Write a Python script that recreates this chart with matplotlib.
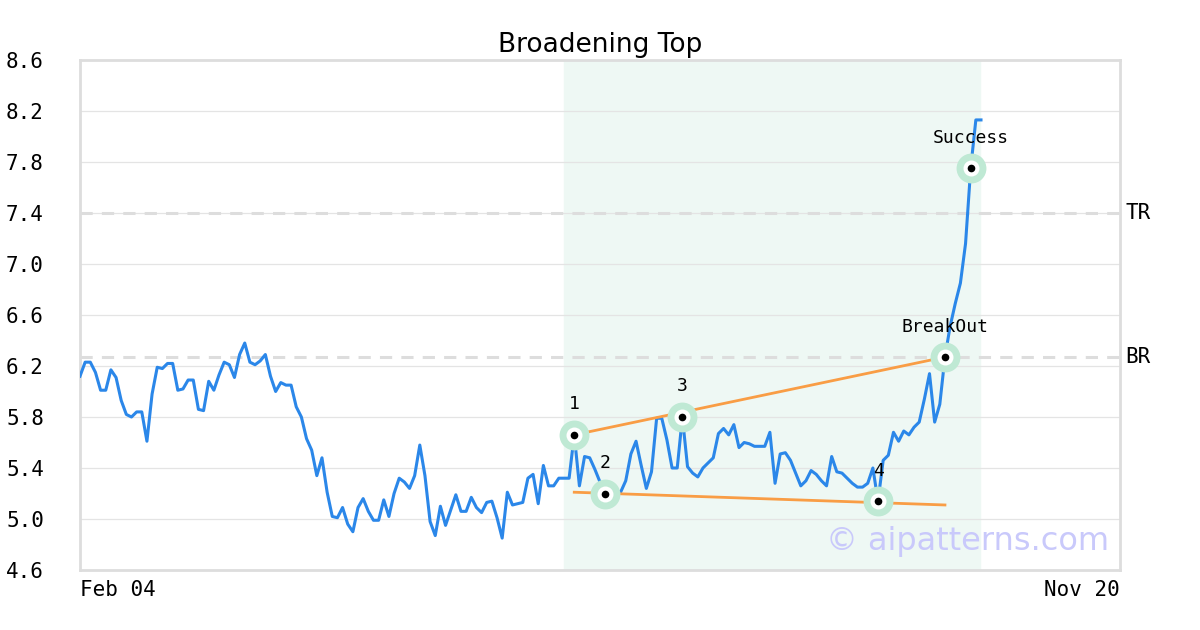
import matplotlib
matplotlib.use("Agg")
import matplotlib.pyplot as plt
import matplotlib.transforms as mtransforms

# price series, one value per trading day (index 0 = Feb 04)
prices = [
    6.12, 6.23, 6.23, 6.15, 6.01, 6.01, 6.17, 6.11, 5.93, 5.82,
    5.80, 5.84, 5.84, 5.61, 5.98, 6.19, 6.18, 6.22, 6.22, 6.01,
    6.02, 6.09, 6.09, 5.86, 5.85, 6.08, 6.01, 6.13, 6.23, 6.21,
    6.11, 6.29, 6.38, 6.23, 6.21, 6.24, 6.29, 6.12, 6.00, 6.07,
    6.05, 6.05, 5.88, 5.80, 5.63, 5.54, 5.34, 5.48, 5.21, 5.02,
    5.01, 5.09, 4.96, 4.90, 5.09, 5.16, 5.06, 4.99, 4.99, 5.15,
    5.02, 5.20, 5.32, 5.29, 5.24, 5.34, 5.58, 5.34, 4.98, 4.87,
    5.10, 4.95, 5.07, 5.19, 5.06, 5.06, 5.17, 5.09, 5.05, 5.13,
    5.14, 5.01, 4.85, 5.21, 5.11, 5.12, 5.13, 5.32, 5.35, 5.12,
    5.42, 5.26, 5.26, 5.32, 5.32, 5.32, 5.66, 5.26, 5.49, 5.48,
    5.39, 5.29, 5.20, 5.21, 5.22, 5.21, 5.30, 5.51, 5.61, 5.42,
    5.24, 5.37, 5.79, 5.79, 5.62, 5.40, 5.40, 5.80, 5.41, 5.36,
    5.33, 5.40, 5.44, 5.48, 5.67, 5.71, 5.66, 5.74, 5.56, 5.60,
    5.59, 5.57, 5.57, 5.57, 5.68, 5.28, 5.51, 5.52, 5.46, 5.36,
    5.26, 5.30, 5.38, 5.35, 5.30, 5.26, 5.49, 5.37, 5.36, 5.32,
    5.28, 5.25, 5.25, 5.28, 5.40, 5.14, 5.46, 5.50, 5.68, 5.61,
    5.69, 5.66, 5.72, 5.76, 5.94, 6.14, 5.76, 5.90, 6.27, 6.51,
    6.69, 6.85, 7.16, 7.75, 8.13, 8.13,
]
days = list(range(len(prices)))

# pattern points (day index, label)
point_days = [96, 102, 117, 155, 168, 173]
point_labels = ["1", "2", "3", "4", "BreakOut", "Success"]

# trend lines
upper_days = [96, 168]
upper_vals = [5.66, 6.27]
lower_days = [96, 168]
lower_vals = [5.21, 5.11]

top_resist = 7.40     # TR
break_level = 6.27    # BR
pattern_span = [94, 174.8]

x_max = 202
y_ticks = [4.6, 5.0, 5.4, 5.8, 6.2, 6.6, 7.0, 7.4, 7.8, 8.2, 8.6]
x_tick_labels = ["Feb 04", "Nov 20"]

mono = "DejaVu Sans Mono"

fig = plt.figure(figsize=(12, 6.3), dpi=100)
ax = fig.add_axes([80 / 1200, 60 / 630, 1040 / 1200, 510 / 630])

ax.axvspan(pattern_span[0], pattern_span[1], color="#eef8f4", zorder=0)
ax.axhline(top_resist, color="#dddddd", lw=2.2, ls=(0, (4, 3)), zorder=1)
ax.axhline(break_level, color="#dddddd", lw=2.2, ls=(0, (4, 3)), zorder=1)

ax.plot(days, prices, color="#2b87e9", lw=2.2, zorder=3)
ax.plot(upper_days, upper_vals, color="#f99d45", lw=2.0, zorder=4)
ax.plot(lower_days, lower_vals, color="#f99d45", lw=2.0, zorder=4)

pv = [prices[d] for d in point_days]
ax.plot(point_days, pv, "o", ms=21.5, color="#bfe9d4", mew=0, zorder=5)
ax.plot(point_days, pv, "o", ms=11.5, color="white", mew=0, zorder=6)
ax.plot(point_days, pv, "o", ms=5.5, color="black", mew=0, zorder=7)
for d, v, lab in zip(point_days, pv, point_labels):
    ax.annotate(lab, (d, v), xytext=(0, 22), textcoords="offset points",
                ha="center", va="center", fontsize=13, family=mono, zorder=8)

tr = mtransforms.blended_transform_factory(ax.transAxes, ax.transData)
ax.text(1.005, top_resist, "TR", transform=tr, ha="left", va="center",
        fontsize=15, family=mono)
ax.text(1.005, break_level, "BR", transform=tr, ha="left", va="center",
        fontsize=15, family=mono)

ax.text(0.99, 0.055, "\u00a9 aipatterns.com", transform=ax.transAxes,
        ha="right", va="center", fontsize=23, color="#c9c9fb", zorder=2)

ax.set_xlim(0, x_max)
ax.set_ylim(4.6, 8.6)
ax.set_yticks(y_ticks)
ax.set_yticklabels(["%.1f" % t for t in y_ticks], family=mono, fontsize=15)
ax.set_xticks([0, x_max])
xl = ax.set_xticklabels(x_tick_labels, family=mono, fontsize=15)
xl[0].set_ha("left")
xl[1].set_ha("right")
ax.tick_params(axis="y", length=0, pad=26)
ax.tick_params(axis="x", length=0, pad=7)
ax.grid(axis="y", color="#e4e4e4", lw=0.9)
ax.set_axisbelow(True)
for s in ax.spines.values():
    s.set_color("#dddddd")
    s.set_linewidth(2)

ax.set_title("Broadening Top", fontsize=19, pad=6)

fig.savefig("out.png", dpi=100)
